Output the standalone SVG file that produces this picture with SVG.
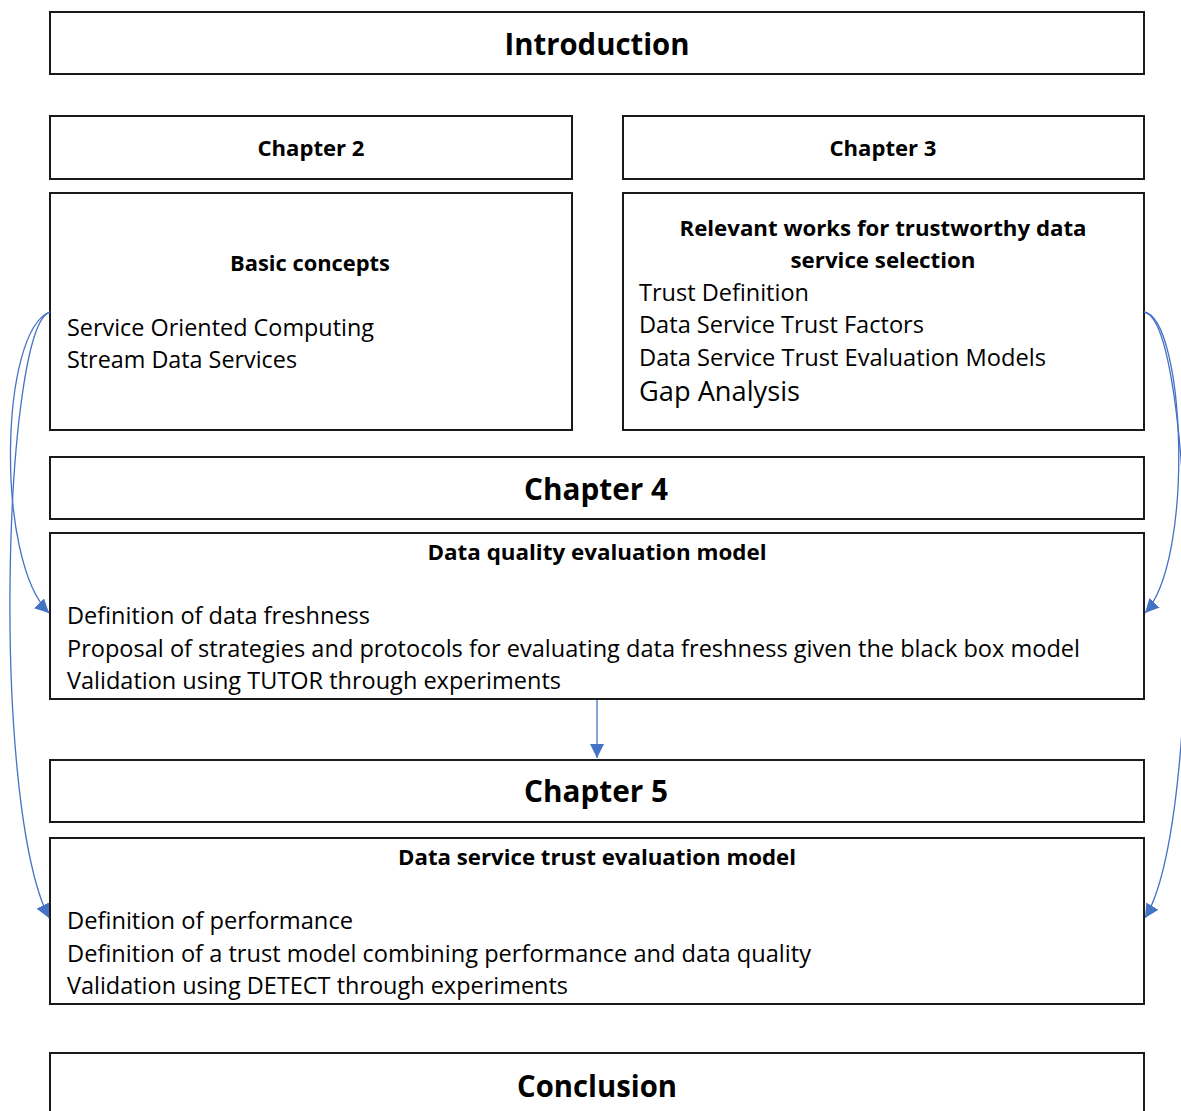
<svg xmlns="http://www.w3.org/2000/svg" width="1181" height="1111" viewBox="0 0 1181 1111">
<style>
.box{fill:#fff;stroke:#1a1a1a;stroke-width:2}
text{font-family:"Open Sans","Noto Sans",sans-serif;fill:#000}
.b{font-weight:bold}
.body{font-size:23.5px}
.h1{font-size:31px;font-weight:bold}
.h2{font-size:22px;font-weight:bold}
.c{text-anchor:middle}
.conn{fill:none;stroke:#4472C4;stroke-width:1.3}
</style>
<defs>
<marker id="ah" markerUnits="userSpaceOnUse" markerWidth="16" markerHeight="14" refX="14" refY="7" orient="auto">
<path d="M0,0 L14,7 L0,14 Z" fill="#4472C4"/>
</marker>
</defs>
<rect width="1181" height="1111" fill="#fff"/>
<g id="introduction">
<rect class="box" x="50" y="12" width="1094" height="62"/>
<text class="h1 c" x="597" y="55" textLength="185" lengthAdjust="spacingAndGlyphs">Introduction</text>
</g>
<g id="chapter2">
<rect class="box" x="50" y="116" width="522" height="63"/>
<text class="h2 c" x="311" y="156" textLength="107" lengthAdjust="spacingAndGlyphs">Chapter 2</text>
</g>
<g id="chapter3">
<rect class="box" x="623" y="116" width="521" height="63"/>
<text class="h2 c" x="883" y="156" textLength="107" lengthAdjust="spacingAndGlyphs">Chapter 3</text>
</g>
<g id="basic-concepts">
<rect class="box" x="50" y="193" width="522" height="237"/>
<text class="h2 c" x="310" y="271" textLength="160" lengthAdjust="spacingAndGlyphs">Basic concepts</text>
<text class="body" x="67" y="336" textLength="307" lengthAdjust="spacingAndGlyphs">Service Oriented Computing</text>
<text class="body" x="67" y="368" textLength="230" lengthAdjust="spacingAndGlyphs">Stream Data Services</text>
</g>
<g id="relevant-works">
<rect class="box" x="623" y="193" width="521" height="237"/>
<text class="h2 c" x="883" y="236" textLength="407" lengthAdjust="spacingAndGlyphs">Relevant works for trustworthy data</text>
<text class="h2 c" x="883" y="268" textLength="185" lengthAdjust="spacingAndGlyphs">service selection</text>
<text class="body" x="639" y="301" textLength="170" lengthAdjust="spacingAndGlyphs">Trust Definition</text>
<text class="body" x="639" y="333" textLength="285" lengthAdjust="spacingAndGlyphs">Data Service Trust Factors</text>
<text class="body" x="639" y="366" textLength="407" lengthAdjust="spacingAndGlyphs">Data Service Trust Evaluation Models</text>
<text x="639" y="401" font-size="27" textLength="161" lengthAdjust="spacingAndGlyphs">Gap Analysis</text>
</g>
<g id="chapter4">
<rect class="box" x="50" y="457" width="1094" height="62"/>
<text class="h1 c" x="596" y="500" textLength="144" lengthAdjust="spacingAndGlyphs">Chapter 4</text>
</g>
<g id="data-quality">
<rect class="box" x="50" y="533" width="1094" height="166"/>
<text class="h2 c" x="597" y="560" textLength="339" lengthAdjust="spacingAndGlyphs">Data quality evaluation model</text>
<text class="body" x="67" y="624" textLength="303" lengthAdjust="spacingAndGlyphs">Definition of data freshness</text>
<text class="body" x="67" y="657" textLength="1013" lengthAdjust="spacingAndGlyphs">Proposal of strategies and protocols for evaluating data freshness given the black box model</text>
<text class="body" x="67" y="689" textLength="494" lengthAdjust="spacingAndGlyphs">Validation using TUTOR through experiments</text>
</g>
<g id="chapter5">
<rect class="box" x="50" y="760" width="1094" height="62"/>
<text class="h1 c" x="596" y="802" textLength="144" lengthAdjust="spacingAndGlyphs">Chapter 5</text>
</g>
<g id="trust-model">
<rect class="box" x="50" y="838" width="1094" height="166"/>
<text class="h2 c" x="597" y="865" textLength="398" lengthAdjust="spacingAndGlyphs">Data service trust evaluation model</text>
<text class="body" x="67" y="929" textLength="286" lengthAdjust="spacingAndGlyphs">Definition of performance</text>
<text class="body" x="67" y="962" textLength="744" lengthAdjust="spacingAndGlyphs">Definition of a trust model combining performance and data quality</text>
<text class="body" x="67" y="994" textLength="501" lengthAdjust="spacingAndGlyphs">Validation using DETECT through experiments</text>
</g>
<g id="conclusion">
<rect class="box" x="50" y="1053" width="1094" height="80"/>
<text class="h1 c" x="597" y="1097" textLength="160" lengthAdjust="spacingAndGlyphs">Conclusion</text>
</g>
<g id="connectors">
<path class="conn" d="M50,312 C0,330 -5,560 49,613" marker-end="url(#ah)"/>
<path class="conn" d="M50,312 C4,325 -10,800 49,918" marker-end="url(#ah)"/>
<path class="conn" d="M1144,312 C1185,318 1195,560 1145,613" marker-end="url(#ah)"/>
<path class="conn" d="M1144,312 C1195,320 1205,820 1145,918" marker-end="url(#ah)"/>
<path class="conn" d="M597,700 L597,758" marker-end="url(#ah)"/>
</g>
</svg>
